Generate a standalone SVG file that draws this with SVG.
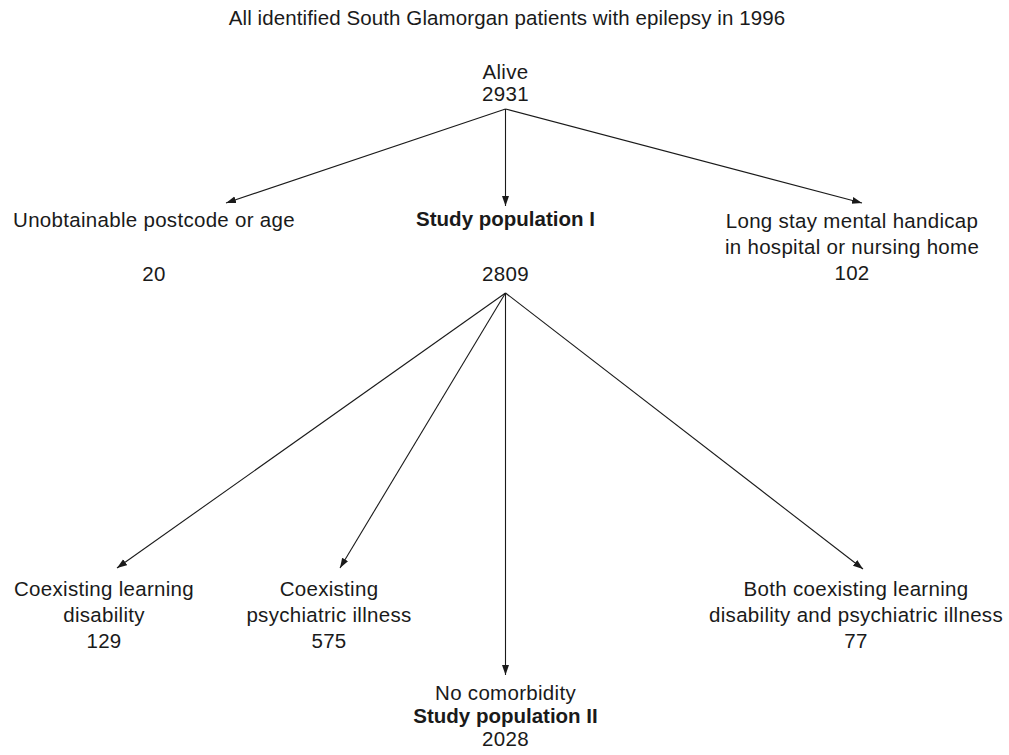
<svg xmlns="http://www.w3.org/2000/svg" width="1009" height="755" viewBox="0 0 1009 755">
<defs>
<style>
text{font-family:"Liberation Sans",Arial,Helvetica,sans-serif;font-size:20.5px;letter-spacing:0.3px;fill:#1a1a1a;text-anchor:middle}
.b{font-weight:bold;letter-spacing:0}
.t{letter-spacing:0.1px}
.c{stroke:#1a1a1a;stroke-width:1.1;fill:none;marker-end:url(#ah)}
</style>
<marker id="ah" markerUnits="userSpaceOnUse" markerWidth="11" markerHeight="8" refX="10" refY="3.5" orient="auto">
<path d="M0,0 L10,3.5 L0,7 z" fill="#1a1a1a"/>
</marker>
</defs>
<rect width="1009" height="755" fill="#fff"/>
<g id="title"><text class="t" x="507" y="25">All identified South Glamorgan patients with epilepsy in 1996</text></g>
<g id="connectors">
<line class="c" x1="505.5" y1="109" x2="226" y2="203"/>
<line class="c" x1="505.5" y1="109" x2="505.5" y2="206"/>
<line class="c" x1="505.5" y1="109" x2="862" y2="203"/>
<line class="c" x1="505.5" y1="293" x2="117" y2="568"/>
<line class="c" x1="505.5" y1="293" x2="340" y2="568"/>
<line class="c" x1="505.5" y1="293" x2="505.5" y2="675"/>
<line class="c" x1="505.5" y1="293" x2="863" y2="569"/>
</g>
<g id="alive"><text x="505.5" y="79">Alive</text><text x="505.5" y="101">2931</text></g>
<g id="unobtainable"><text x="154" y="227">Unobtainable postcode or age</text><text x="154" y="281">20</text></g>
<g id="study1"><text class="b" x="505.5" y="226">Study population I</text><text x="505.5" y="281">2809</text></g>
<g id="longstay"><text x="852" y="228">Long stay mental handicap</text><text x="852" y="254">in hospital or nursing home</text><text x="852" y="280">102</text></g>
<g id="learning"><text x="104" y="596">Coexisting learning</text><text x="104" y="622">disability</text><text x="104" y="648">129</text></g>
<g id="psychiatric"><text x="329" y="596">Coexisting</text><text x="329" y="622">psychiatric illness</text><text x="329" y="648">575</text></g>
<g id="both"><text x="856" y="596">Both coexisting learning</text><text x="856" y="622">disability and psychiatric illness</text><text x="856" y="648">77</text></g>
<g id="study2"><text x="505.5" y="700">No comorbidity</text><text class="b" x="505.5" y="723">Study population II</text><text x="505.5" y="746">2028</text></g>
</svg>
